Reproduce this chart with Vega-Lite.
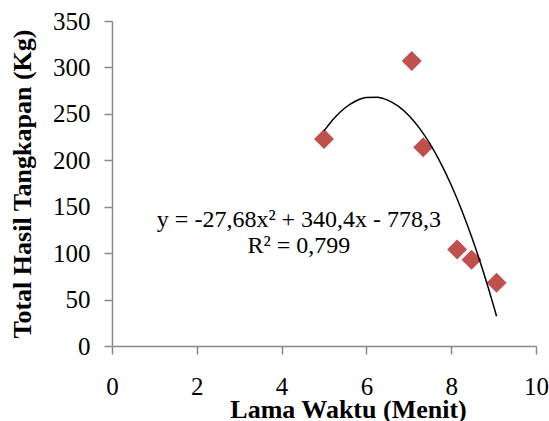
{
  "$schema": "https://vega.github.io/schema/vega-lite/v6.json",
  "width": 424,
  "height": 325,
  "autosize": "none",
  "padding": {"left": 112, "top": 21, "right": 13, "bottom": 75},
  "background": "white",
  "config": {
    "view": {"stroke": null},
    "font": "Liberation Serif",
    "axis": {"labelFont": "Liberation Serif", "titleFont": "Liberation Serif"},
    "text": {"font": "Liberation Serif"}
  },
  "datasets": {
    "obs": [
      {"x": 5.0, "y": 223},
      {"x": 7.07, "y": 307},
      {"x": 7.34, "y": 214},
      {"x": 8.14, "y": 104},
      {"x": 8.48, "y": 93},
      {"x": 9.07, "y": 68}
    ],
    "trend": [
      {"x": 5.0, "y": 231.7},
      {"x": 5.25, "y": 245.87},
      {"x": 5.5, "y": 256.58},
      {"x": 5.75, "y": 263.83},
      {"x": 6.0, "y": 267.62},
      {"x": 6.25, "y": 267.95},
      {"x": 6.5, "y": 264.82},
      {"x": 6.75, "y": 258.23},
      {"x": 7.0, "y": 248.18},
      {"x": 7.25, "y": 234.67},
      {"x": 7.5, "y": 217.7},
      {"x": 7.75, "y": 197.27},
      {"x": 8.0, "y": 173.38},
      {"x": 8.25, "y": 146.03},
      {"x": 8.5, "y": 115.22},
      {"x": 8.75, "y": 80.95},
      {"x": 9.0, "y": 43.22},
      {"x": 9.07, "y": 32.04}
    ],
    "eq": [
      {"x": 4.41, "y": 128.2, "label": "y = -27,68x² + 340,4x - 778,3"},
      {"x": 4.41, "y": 99.8, "label": "R² = 0,799"}
    ]
  },
  "encoding": {
    "x": {
      "field": "x",
      "type": "quantitative",
      "scale": {"domain": [0, 10], "nice": false, "zero": true},
      "axis": {
        "title": "Lama Waktu (Menit)",
        "values": [0, 2, 4, 6, 8, 10],
        "grid": false,
        "domainColor": "#898989",
        "domainWidth": 1.5,
        "tickColor": "#898989",
        "tickWidth": 1.5,
        "tickSize": 8,
        "labelFont": "Liberation Serif",
        "labelFontSize": 25,
        "labelColor": "black",
        "labelPadding": 20,
        "labelFlush": false,
        "labelOverlap": false,
        "titleFont": "Liberation Serif",
        "titleFontSize": 26,
        "titleFontWeight": "bold",
        "titleColor": "black",
        "titleX": 236,
        "titleY": 71,
        "titleAlign": "center",
        "titleBaseline": "alphabetic"
      }
    },
    "y": {
      "field": "y",
      "type": "quantitative",
      "scale": {"domain": [0, 350], "nice": false},
      "axis": {
        "title": "Total Hasil Tangkapan (Kg)",
        "values": [0, 50, 100, 150, 200, 250, 300, 350],
        "grid": false,
        "domainColor": "#898989",
        "domainWidth": 1.5,
        "tickColor": "#898989",
        "tickWidth": 1.5,
        "tickSize": 8,
        "labelFont": "Liberation Serif",
        "labelFontSize": 25,
        "labelColor": "black",
        "labelPadding": 14,
        "labelBaseline": "middle",
        "labelFlush": false,
        "labelOverlap": false,
        "titleFont": "Liberation Serif",
        "titleFontSize": 26,
        "titleFontWeight": "bold",
        "titleColor": "black",
        "titleAngle": 270,
        "titleX": -82,
        "titleY": 162.5,
        "titleAlign": "center",
        "titleBaseline": "alphabetic"
      }
    }
  },
  "layer": [
    {
      "data": {"name": "obs"},
      "mark": {"type": "point", "shape": "diamond", "filled": true, "size": 400, "color": "#C0504D", "opacity": 1}
    },
    {
      "data": {"name": "trend"},
      "mark": {"type": "line", "color": "black", "strokeWidth": 1.5, "interpolate": "monotone"}
    },
    {
      "data": {"name": "eq"},
      "mark": {"type": "text", "font": "Liberation Serif", "fontSize": 24, "align": "center", "baseline": "alphabetic", "color": "black"},
      "encoding": {"text": {"field": "label", "type": "nominal"}}
    }
  ]
}
